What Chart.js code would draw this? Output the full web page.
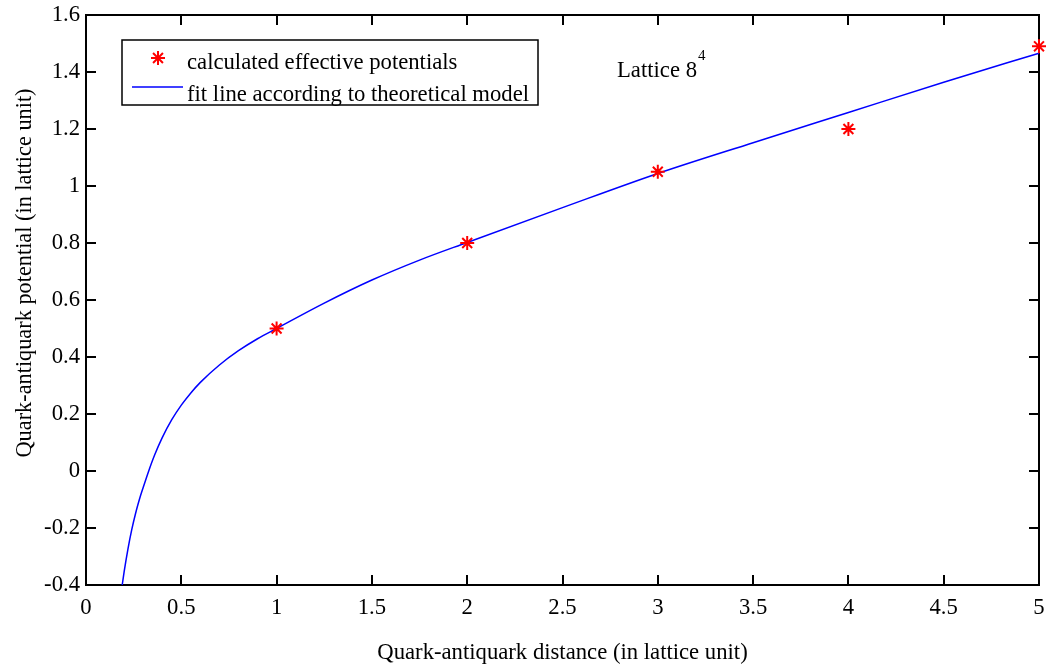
<!DOCTYPE html>
<html>
<head>
<meta charset="utf-8">
<script src="https://cdn.jsdelivr.net/npm/chart.js@4/dist/chart.umd.min.js"></script>
<style>
html,body{margin:0;padding:0;background:#fff;}
#wrap{width:1048px;height:664px;position:relative;}
</style>
</head>
<body>
<div id="wrap"><canvas id="c" width="1048" height="664"></canvas></div>
<script>
// ---- data ----
const distance = [1, 2, 3, 4, 5];
const potential = [0.50, 0.80, 1.05, 1.20, 1.49];

const fitDistance = [0.19, 0.20, 0.22, 0.24, 0.26, 0.28, 0.30, 0.33, 0.36, 0.40, 0.45, 0.50, 0.55, 0.60, 0.70, 0.80, 0.90, 1.00, 1.25, 1.50, 1.75, 2.00, 2.50, 3.00, 3.50, 4.00, 4.50, 5.00];
const fitPotential = [-0.40, -0.354, -0.274, -0.206, -0.149, -0.100, -0.058, 0.002, 0.056, 0.117, 0.180, 0.231, 0.274, 0.311, 0.372, 0.422, 0.464, 0.500, 0.589, 0.670, 0.740, 0.802, 0.924, 1.044, 1.152, 1.258, 1.364, 1.466];

const xTicks = [0, 0.5, 1, 1.5, 2, 2.5, 3, 3.5, 4, 4.5, 5];
const xTickLabels = ['0', '0.5', '1', '1.5', '2', '2.5', '3', '3.5', '4', '4.5', '5'];
const yTicks = [-0.4, -0.2, 0, 0.2, 0.4, 0.6, 0.8, 1, 1.2, 1.4, 1.6];
const yTickLabels = ['-0.4', '-0.2', '0', '0.2', '0.4', '0.6', '0.8', '1', '1.2', '1.4', '1.6'];

const seriesNames = ['calculated effective potentials', 'fit line according to theoretical model'];
const xTitle = 'Quark-antiquark distance (in lattice unit)';
const yTitle = 'Quark-antiquark potential (in lattice unit)';
const noteMain = 'Lattice 8';
const noteSup = '4';

const FONT = '"Liberation Serif", "Times New Roman", serif';
const FS = 22.7;

const framePlugin = {
  id: 'frame',
  beforeDatasetsDraw(chart) {
    const ctx = chart.ctx;
    const a = chart.chartArea;
    const xs = chart.scales.x, ys = chart.scales.y;
    ctx.save();
    ctx.strokeStyle = '#000';
    ctx.lineWidth = 2;
    ctx.beginPath();
    ctx.rect(a.left, a.top, a.right - a.left, a.bottom - a.top);
    ctx.stroke();
    const tl = 10;
    ctx.beginPath();
    xTicks.forEach(v => {
      const p = Math.round(xs.getPixelForValue(v));
      ctx.moveTo(p, a.bottom); ctx.lineTo(p, a.bottom - tl);
      ctx.moveTo(p, a.top); ctx.lineTo(p, a.top + tl);
    });
    yTicks.forEach(v => {
      const p = Math.round(ys.getPixelForValue(v));
      ctx.moveTo(a.left, p); ctx.lineTo(a.left + tl, p);
      ctx.moveTo(a.right, p); ctx.lineTo(a.right - tl, p);
    });
    ctx.stroke();
    ctx.restore();
  },
  afterDraw(chart) {
    const ctx = chart.ctx;
    const a = chart.chartArea;
    ctx.save();
    ctx.fillStyle = '#000';
    ctx.font = FS + 'px ' + FONT;
    ctx.textAlign = 'center';
    ctx.textBaseline = 'alphabetic';
    ctx.fillText(xTitle, (a.left + a.right) / 2, 659);
    ctx.save();
    ctx.font = '22.3px ' + FONT;
    ctx.translate(31, 273);
    ctx.rotate(-Math.PI / 2);
    ctx.fillText(yTitle, 0, 0);
    ctx.restore();

    // legend box
    ctx.fillStyle = '#fff';
    ctx.fillRect(122, 40, 416, 65);
    ctx.strokeStyle = '#000';
    ctx.lineWidth = 1.5;
    ctx.strokeRect(122, 40, 416, 65);
    const ds0 = chart.data.datasets[0];
    ctx.strokeStyle = ds0.borderColor;
    ctx.fillStyle = ds0.backgroundColor;
    ctx.lineWidth = ds0.borderWidth;
    Chart.helpers.drawPoint(ctx, {pointStyle: 'star', radius: ds0.pointRadius, rotation: 0, borderWidth: ds0.borderWidth}, 158, 58);
    ctx.strokeStyle = chart.data.datasets[1].borderColor;
    ctx.lineWidth = 1.5;
    ctx.beginPath(); ctx.moveTo(132, 87); ctx.lineTo(183, 87); ctx.stroke();
    ctx.fillStyle = '#000';
    ctx.font = FS + 'px ' + FONT;
    ctx.textAlign = 'left';
    ctx.fillText(seriesNames[0], 187, 69);
    ctx.fillText(seriesNames[1], 187, 101);

    ctx.fillText(noteMain, 617, 77);
    const w = ctx.measureText(noteMain).width;
    ctx.font = '15px ' + FONT;
    ctx.fillText(noteSup, 617 + w + 1, 60);
    ctx.restore();
  }
};

new Chart(document.getElementById('c'), {
  type: 'scatter',
  data: {
    datasets: [
      {
        label: seriesNames[0],
        data: distance.map((d, i) => ({x: d, y: potential[i]})),
        pointStyle: 'star',
        pointRadius: 7,
        pointHoverRadius: 7,
        borderColor: '#ff0000',
        backgroundColor: '#ff0000',
        borderWidth: 2,
        showLine: false,
        clip: false
      },
      {
        label: seriesNames[1],
        data: fitDistance.map((d, i) => ({x: d, y: fitPotential[i]})),
        showLine: true,
        borderColor: '#0000ff',
        borderWidth: 1.5,
        pointRadius: 0,
        pointHoverRadius: 0,
        fill: false,
        cubicInterpolationMode: 'monotone',
        clip: false
      }
    ]
  },
  options: {
    responsive: false,
    animation: false,
    events: [],
    layout: {padding: {top: 15, right: 8, left: 0, bottom: 0}},
    plugins: {legend: {display: false}, tooltip: {enabled: false}, title: {display: false}},
    scales: {
      x: {
        type: 'linear',
        min: 0, max: 5,
        afterBuildTicks: s => { s.ticks = xTicks.map(v => ({value: v})); },
        afterFit: s => { s.height = 79; s.paddingLeft = 0; s.paddingRight = 0; },
        grid: {display: false, drawTicks: false},
        border: {display: false},
        ticks: {
          padding: 9,
          color: '#000',
          font: {family: FONT, size: FS},
          maxRotation: 0,
          autoSkip: false,
          callback: (v) => { const i = xTicks.indexOf(v); return i >= 0 ? xTickLabels[i] : ''; }
        }
      },
      y: {
        type: 'linear',
        min: -0.4, max: 1.6,
        afterBuildTicks: s => { s.ticks = yTicks.map(v => ({value: v})); },
        afterFit: s => { s.width = 86; s.paddingTop = 0; s.paddingBottom = 0; },
        grid: {display: false, drawTicks: false},
        border: {display: false},
        ticks: {
          padding: 6,
          color: '#000',
          font: {family: FONT, size: FS},
          autoSkip: false,
          callback: (v) => { const i = yTicks.indexOf(v); return i >= 0 ? yTickLabels[i] : ''; }
        }
      }
    }
  },
  plugins: [framePlugin]
});
</script>
</body>
</html>
